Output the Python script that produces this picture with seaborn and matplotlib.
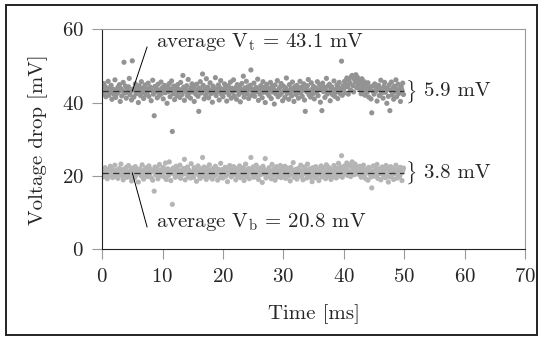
import matplotlib
matplotlib.use("Agg")
import matplotlib.pyplot as plt
from matplotlib.patches import Rectangle
import numpy as np
import pandas as pd
import seaborn as sns

# sampling of both traces (ms)
dt = 0.125
n_samples = 400

# averages quoted on the chart (mV)
mean_top = 43.1
mean_bottom = 20.8
spread_top = "5.9 mV"
spread_bottom = "3.8 mV"

# deviations from the average, in tenths of a mV
dev_top = [
    3, -8, 21, -2, 13, -15, 6, 0, 27, -11, 9, -4, 16, -22, 1, 5, -9, 31, -17, 4,
    -6, 11, -1, 18, -28, 7, -13, 2, 24, 79, -5, 14, -19, 8, -3, 12, 35, -10, 0, -24,
    83, 6, -16, 3, 20, -7, 10, -1, -31, 15, 4, -12, 26, -5, 9, -20, 1, 17, -9, 7,
    -3, 22, -14, 5, 11, -26, 2, 30, -8, -67, 13, -2, 7, -18, 19, 0, -11, 4, 25, -6,
    10, -21, 3, 16, -4, 8, -33, 12, -1, 21, -15, 6, 28, -110, -7, 14, -23, 2, 9, -12,
    18, -3, 5, -17, 24, 1, -9, 43, 11, -25, 7, -1, 15, -13, 32, -6, 3, -19, 10, 20,
    -2, 13, -28, 6, -8, 19, 2, -14, -55, 9, 26, -5, 0, 47, 16, -21, 7, -10, 34, -3,
    11, -18, 4, 23, -7, 1, -30, 14, -4, 8, 37, -12, 5, -1, 17, -24, 9, 29, -8, 2,
    -15, 6, 20, -3, 12, -27, 0, 15, -10, 4, 25, -19, 8, -2, 31, -13, 3, 10, -22, 18,
    1, -9, 14, -29, 5, 21, -4, 41, -16, 9, 0, 27, -7, 12, -20, 3, 16, 58, -11, 6,
    -5, 22, -14, 2, 10, -1, 33, -25, 7, -8, 15, 4, -18, 26, -3, 11, -31, 1, 19, -6,
    8, -12, 3, 24, -20, 13, -2, 6, -35, 17, -7, 0, 29, -15, 5, 10, -9, 21, -4, -26,
    14, 2, -17, 9, 36, -6, 1, -22, 18, -3, 7, -13, 25, 0, -28, 12, 4, -9, 16, -1,
    -19, 6, 27, -5, 11, -14, 3, 20, -24, -55, 8, -2, 15, 32, -10, 1, -16, 23, 5, -7,
    13, -21, 0, 9, -4, 26, -12, 4, 18, -30, 7, -53, 22, -1, 11, -17, 3, 35, -8, 14,
    -3, 19, -26, 6, 12, -9, 1, 28, -14, 5, -2, 17, -20, 10, 24, -6, 3, 82, -11, 15,
    8, 27, -4, 19, 36, 12, -8, 31, 22, 3, 40, 43, 15, -2, 33, 25, 45, 10, 38, 18,
    29, 6, 21, -7, 34, 14, 2, 26, -11, 17, 9, -3, 23, -16, 5, 12, -21, -59, 1, 15,
    -8, 20, -1, 11, -27, 4, 16, -12, 7, 30, -5, 0, -19, 13, 24, -3, 9, -33, 6, -14,
    17, -53, 2, 25, -10, 8, -22, 14, -1, 31, -15, 5, 19, -6, 0, -28, 11, 3, 22, -9,
]

dev_bottom = [
    -2, 7, -11, 3, 14, -5, 0, -16, 9, 4, -7, 18, -1, 11, -13, 6, -3, 21, -9, 2,
    8, -15, 1, 12, -4, 24, -8, 5, -19, 10, 0, -6, 15, -12, 3, 20, -2, -10, 7, -22,
    13, -1, 6, -14, 17, -7, 2, 9, -25, 4, 11, -3, -9, 22, 1, -17, 8, -5, 14, 0,
    -10, 5, 19, -2, 10, -13, 3, -20, 7, -50, 16, -6, 1, 12, -16, 4, 23, -8, 0, 9,
    -4, 15, -11, 6, 27, -18, 2, 11, -7, 30, -1, -21, 8, -86, 13, -3, 5, -12, 18, -6,
    10, -9, 3, 21, -15, 0, 7, -4, 12, 37, -19, 5, -2, 16, -10, 8, 1, -14, 25, -5,
    4, -12, 14, -1, 9, -23, 6, 19, -7, 2, -15, 11, 0, 42, -9, 16, -3, 7, -18, 13,
    -6, 3, 22, -11, 8, -1, -17, 12, 5, -8, 18, -4, 1, -20, 10, 6, -13, 26, -2, 9,
    -14, 7, 0, 15, -9, 4, -24, 11, -3, 20, 2, -11, 8, -6, 17, -1, 13, -19, 5, -8,
    11, -4, 19, -13, 1, 8, -7, 14, -21, 3, 24, -10, 6, -2, 12, -16, 0, 42, 9, -5,
    16, -12, 4, -1, 21, -8, 10, -18, 2, 13, -5, 7, -26, 18, -3, 9, 39, -14, 5, 0,
    -9, 14, -2, 6, -16, 23, 1, -6, 11, -20, 4, 17, -11, 0, 8, -4, 20, -13, 3, 12,
    -7, 2, 18, -15, 9, -1, 13, -9, 5, -22, 15, -3, 7, 28, -12, 1, -6, 10, -17, 4,
    12, -5, 0, 21, -10, 6, -19, 3, 16, -2, 9, -14, 24, -7, 1, 11, -12, 5, -24, 14,
    -3, 8, -13, 17, 2, -8, 11, -21, 6, -1, 19, -11, 4, 13, -5, 0, -16, 22, 7, -9,
    15, -6, 3, -18, 10, 1, -10, 20, -4, 7, -14, 12, -1, 26, -8, 5, 16, 47, -12, 2,
    9, 19, -3, 14, 27, -7, 6, 22, 1, -10, 17, 30, 4, 12, -5, 24, 8, -2, 15, 11,
    -4, 18, 7, -12, 13, 0, 21, -8, 5, -16, 10, 2, -20, 15, -3, 8, -11, -41, 4, 19,
    -9, 1, 14, -6, 23, -15, 6, -2, 11, -19, 3, 16, -7, 0, 9, -13, 20, -4, 12, -25,
    5, -11, 17, 2, -7, 12, -18, 8, 0, 21, -3, -14, 10, 4, -9, 15, -1, -21, 6, 13,
]

x_ticks = [0, 10, 20, 30, 40, 50, 60, 70]
y_ticks = [0, 20, 40, 60]

# build long table for seaborn
t = np.arange(n_samples) * dt
df = pd.concat([
    pd.DataFrame({"time": t, "volt": mean_top + np.array(dev_top) / 10, "trace": "top"}),
    pd.DataFrame({"time": t, "volt": mean_bottom + np.array(dev_bottom) / 10, "trace": "bottom"}),
])

sns.set_style("white")
plt.rcParams["font.family"] = ["cmr10", "DejaVu Serif"]
plt.rcParams["mathtext.fontset"] = "cm"
plt.rcParams["axes.formatter.use_mathtext"] = True

fs = 15
fig = plt.figure(figsize=(5.43, 3.37), dpi=100)
ax = fig.add_axes([0.188, 0.261, 0.779, 0.652])

sns.scatterplot(data=df, x="time", y="volt", hue="trace",
                palette={"top": "#939393", "bottom": "#b5b5b5"},
                s=14, linewidth=0, legend=False, ax=ax)

for m in (mean_top, mean_bottom):
    ax.hlines(m, 0, 50, colors="#333333", linestyles=(0, (5, 3.5)), linewidth=0.9)

ax.set_xlim(0, 70)
ax.set_ylim(0, 60)
ax.set_xticks(x_ticks)
ax.set_yticks(y_ticks)
ax.set_xlabel("Time [ms]", fontsize=fs, labelpad=13)
ax.set_ylabel("Voltage drop [mV]", fontsize=fs, labelpad=10)
ax.tick_params(axis="both", labelsize=fs, direction="out", length=7,
               width=0.8, color="#9a9a9a", left=True, bottom=True)
ax.tick_params(axis="x", pad=7)
ax.tick_params(axis="y", pad=6)

for side in ("left", "bottom"):
    ax.spines[side].set_color("#222222")
    ax.spines[side].set_linewidth(0.8)
for side in ("top", "right"):
    ax.spines[side].set_color("#9a9a9a")
    ax.spines[side].set_linewidth(0.8)

# annotations for the averages
ax.plot([5, 7.45], [mean_top, 55.2], color="black", linewidth=0.7)
ax.plot([5, 7.45], [mean_bottom, 6.0], color="black", linewidth=0.7)
ax.text(9.0, 56.6, r"average V$_\mathrm{t}$ = 43.1 mV", fontsize=fs, va="center")
ax.text(9.0, 7.4, r"average V$_\mathrm{b}$ = 20.8 mV", fontsize=fs, va="center")

# braces with the spread of each trace
for m, lab in ((mean_top, spread_top), (mean_bottom, spread_bottom)):
    ax.text(50.1, m, r"$\}$", fontsize=14, va="center", ha="left")
    ax.text(53.3, m, lab, fontsize=fs, va="center", ha="left")

# outer frame round the whole figure
fig.patches.append(Rectangle((0.011, 0.006), 0.978, 0.979, transform=fig.transFigure,
                             fill=False, edgecolor="#222222", linewidth=1.4))

fig.savefig("out.png", dpi=100)
